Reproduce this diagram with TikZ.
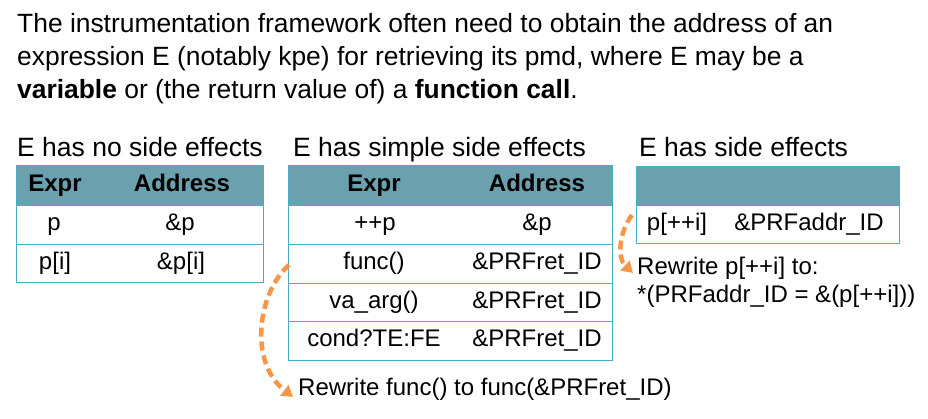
\documentclass[tikz,border=0pt]{standalone}
\usepackage{fontspec}
\setmainfont{Liberation Sans}
\usetikzlibrary{arrows.meta}
\definecolor{hdrfill}{RGB}{107,160,174}
\definecolor{tblline}{RGB}{75,172,198}
\definecolor{arrorange}{RGB}{247,150,70}
\tikzset{
  hdrcell/.style={draw=tblline, fill=hdrfill, line width=1.4pt, anchor=north west, inner sep=0pt},
  rowcell/.style={draw=tblline, fill=white, line width=1.4pt, anchor=north west, inner sep=0pt},
  celltxt/.style={font=\fontsize{24}{28}\selectfont, text height=17pt, text depth=5pt, inner sep=0pt},
  hdrtxt/.style={celltxt, font=\fontsize{24}{28}\selectfont\bfseries},
  heading/.style={font=\fontsize{26.5}{30}\selectfont, anchor=base west, inner sep=0pt},
  bodytxt/.style={font=\fontsize{26.4}{33}\selectfont, anchor=base west, inner sep=0pt},
  notetxt/.style={font=\fontsize{24}{28}\selectfont, anchor=base west, inner sep=0pt},
  rewrite/.style={draw=arrorange, line width=4.5pt, dash pattern=on 9pt off 5pt,
    -{Triangle[length=11pt,width=13pt]}}
}
\begin{document}
\begin{tikzpicture}[x=1pt,y=-1pt]
\useasboundingbox (0,0) rectangle (928,418);
% intro text
\node[bodytxt] (l1) at (17,32) {The instrumentation framework often need to obtain the address of an};
\node[bodytxt] (l2) at (17,65) {expression E (notably kpe) for retrieving its pmd, where E may be a};
\node[bodytxt] (l3) at (17,98) {\textbf{variable} or (the return value of) a \textbf{function call}.};
% headings
\node[heading] (h1) at (17,156) {E has no side effects};
\node[heading] (h2) at (293,156) {E has simple side effects};
\node[heading] (h3) at (639,156) {E has side effects};
% table 1
\node[hdrcell, minimum width=247pt, minimum height=40pt] (t1h) at (16,165) {};
\node[rowcell, minimum width=247pt, minimum height=39pt] (t1r1) at (16,205) {};
\node[rowcell, minimum width=247pt, minimum height=38pt] (t1r2) at (16,244) {};
\node[hdrtxt] (t1e) at (55,185) {Expr};
\node[hdrtxt] (t1a) at (182,185) {Address};
\node[celltxt] (t1c1) at (54,224.5) {p};
\node[celltxt] (t1d1) at (180,224.5) {\&p};
\node[celltxt] (t1c2) at (55,263) {p[i]};
\node[celltxt] (t1d2) at (181,263) {\&p[i]};
% table 2
\node[hdrcell, minimum width=324pt, minimum height=40pt] (t2h) at (288,165) {};
\node[rowcell, minimum width=324pt, minimum height=39pt] (t2r1) at (288,205) {};
\node[rowcell, minimum width=324pt, minimum height=39pt] (t2r2) at (288,244) {};
\node[rowcell, minimum width=324pt, minimum height=38pt] (t2r3) at (288,283) {};
\node[rowcell, minimum width=324pt, minimum height=39pt] (t2r4) at (288,321) {};
\node[hdrtxt] (t2e) at (374,185) {Expr};
\node[hdrtxt] (t2a) at (537,185) {Address};
\node[celltxt] (t2c1) at (375,224.5) {++p};
\node[celltxt] (t2d1) at (537,224.5) {\&p};
\node[celltxt] (t2c2) at (374,263.5) {func()};
\node[celltxt] (t2d2) at (537,263.5) {\&PRFret\_ID};
\node[celltxt] (t2c3) at (374,302) {va\_arg()};
\node[celltxt] (t2d3) at (537,302) {\&PRFret\_ID};
\node[celltxt] (t2c4) at (374,340.5) {cond?TE:FE};
\node[celltxt] (t2d4) at (537,340.5) {\&PRFret\_ID};
% table 3
\node[hdrcell, minimum width=263pt, minimum height=39pt] (t3h) at (636,166) {};
\node[rowcell, minimum width=263pt, minimum height=38pt] (t3r1) at (636,205) {};
\node[celltxt] (t3c1) at (677,224) {p[++i]};
\node[celltxt] (t3d1) at (809,224) {\&PRFaddr\_ID};
% notes
\node[notetxt] (n1) at (298,395) {Rewrite func() to func(\&PRFret\_ID)};
\node[notetxt] (n2) at (637,274) {Rewrite p[++i] to:};
\node[notetxt] (n3) at (637,302) {*(PRFaddr\_ID = \&(p[++i]))};
% arrows
\coordinate (a1s) at (289,265);
\coordinate (a1e) at (293,397);
\coordinate (a2s) at (632,215);
\coordinate (a2e) at (633,273);
\draw[rewrite] (a1s) .. controls (258,292) and (248,362) .. (a1e);
\draw[rewrite] (a2s) .. controls (619,232) and (617,258) .. (a2e);
\end{tikzpicture}
\end{document}
